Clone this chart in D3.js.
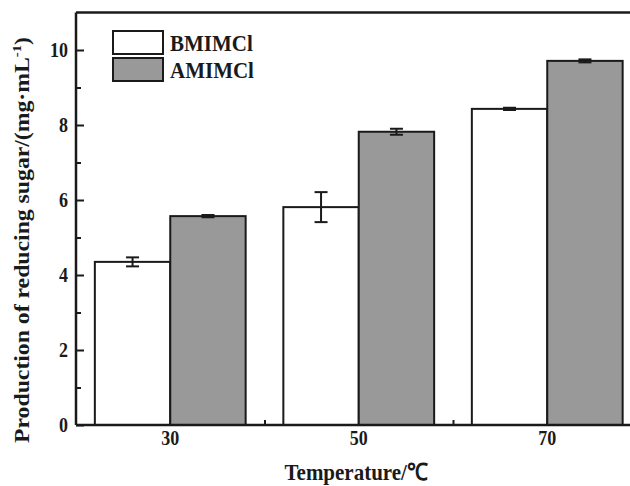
<!DOCTYPE html>
<html>
  <head>
    <title>Reducing sugar bar chart</title>
    <script src="https://d3js.org/d3.v7.min.js"></script>
    <style>
      body { margin: 0; background: #fff; }
      text { font-family: "Liberation Serif", "Times New Roman", serif; font-weight: bold; fill: #1a1a1a; }
    </style>
  </head>
  <body>
    <div id="chart"></div>
    <script>
      // data
      var temps = [30, 50, 70];
      var series = ["BMIMCl", "AMIMCl"];
      var bmimcl = [4.35, 5.81, 8.43];
      var bmimclErr = [0.12, 0.40, 0.03];
      var amimcl = [5.57, 7.82, 9.71];
      var amimclErr = [0.03, 0.08, 0.04];
      var yTicks = [0, 2, 4, 6, 8, 10];
      var yMinor = [1, 3, 5, 7, 9];
      var xMinor = [40, 60];

      var ink = "#1a1a1a";
      var fills = ["#ffffff", "#999999"];
      var stretch = 1.13; // the original figure is a bit taller than wide

      var svg = d3.select("#chart")
        .append("svg")
        .attr("width", 630)
        .attr("height", 486);

      var xScale = d3.scaleLinear().domain([20, 80]).range([76, 641.5]);
      var yScale = d3.scaleLinear().domain([0, 11]).range([425, 12.5]);
      var barW = 8; // in x units

      var rows = [];
      temps.forEach(function(t, i) {
        rows.push({ t: t, v: bmimcl[i], e: bmimclErr[i], s: 0 });
        rows.push({ t: t, v: amimcl[i], e: amimclErr[i], s: 1 });
      });

      // bars
      svg.selectAll("rect.bar")
        .data(rows)
        .enter()
        .append("rect")
        .attr("class", "bar")
        .attr("x", function(d) { return xScale(d.s === 0 ? d.t - barW : d.t); })
        .attr("y", function(d) { return yScale(d.v); })
        .attr("width", function(d) { return xScale(d.t + barW) - xScale(d.t); })
        .attr("height", function(d) { return yScale(0) - yScale(d.v); })
        .attr("fill", function(d) { return fills[d.s]; })
        .attr("stroke", ink)
        .attr("stroke-width", 2);

      // error bars
      var cap = 6.5;
      var eb = svg.selectAll("g.err")
        .data(rows)
        .enter()
        .append("g")
        .attr("class", "err")
        .attr("stroke", ink)
        .attr("stroke-width", 2);
      function cx(d) { return xScale(d.s === 0 ? d.t - barW / 2 : d.t + barW / 2); }
      eb.append("line")
        .attr("x1", cx).attr("x2", cx)
        .attr("y1", function(d) { return yScale(d.v + d.e); })
        .attr("y2", function(d) { return yScale(d.v - d.e); });
      eb.append("line")
        .attr("x1", function(d) { return cx(d) - cap; })
        .attr("x2", function(d) { return cx(d) + cap; })
        .attr("y1", function(d) { return yScale(d.v + d.e); })
        .attr("y2", function(d) { return yScale(d.v + d.e); });
      eb.append("line")
        .attr("x1", function(d) { return cx(d) - cap; })
        .attr("x2", function(d) { return cx(d) + cap; })
        .attr("y1", function(d) { return yScale(d.v - d.e); })
        .attr("y2", function(d) { return yScale(d.v - d.e); });

      // frame: left, bottom, top
      var frame = svg.append("g").attr("stroke", ink).attr("stroke-width", 2.5);
      frame.append("line").attr("x1", xScale(20)).attr("x2", xScale(20))
        .attr("y1", yScale(11)).attr("y2", yScale(0));
      frame.append("line").attr("x1", xScale(20)).attr("x2", xScale(80))
        .attr("y1", yScale(0)).attr("y2", yScale(0));
      frame.append("line").attr("x1", xScale(20)).attr("x2", xScale(80))
        .attr("y1", yScale(11)).attr("y2", yScale(11));

      // y axis ticks (inward)
      var yAxis = svg.append("g")
        .attr("transform", "translate(" + xScale(20) + ",0)")
        .call(d3.axisRight(yScale).tickValues(yTicks).tickSize(8).tickFormat(""));
      yAxis.select(".domain").remove();
      yAxis.selectAll("line").attr("stroke", ink).attr("stroke-width", 2);

      var yMin = svg.append("g")
        .attr("transform", "translate(" + xScale(20) + ",0)")
        .call(d3.axisRight(yScale).tickValues(yMinor).tickSize(5).tickFormat(""));
      yMin.select(".domain").remove();
      yMin.selectAll("line").attr("stroke", ink).attr("stroke-width", 2);

      svg.selectAll("text.ylab")
        .data(yTicks)
        .enter()
        .append("text")
        .attr("class", "ylab")
        .attr("transform", function(d) {
          return "translate(68," + (yScale(d) + 6.5) + ") scale(1," + stretch + ")";
        })
        .attr("text-anchor", "end")
        .style("font-size", "18px")
        .text(function(d) { return d; });

      // x axis ticks (inward)
      var xMin = svg.append("g")
        .attr("transform", "translate(0," + yScale(0) + ")")
        .call(d3.axisTop(xScale).tickValues(xMinor).tickSize(5).tickFormat(""));
      xMin.select(".domain").remove();
      xMin.selectAll("line").attr("stroke", ink).attr("stroke-width", 2);

      svg.selectAll("text.xlab")
        .data(temps)
        .enter()
        .append("text")
        .attr("class", "xlab")
        .attr("transform", function(d) {
          return "translate(" + xScale(d) + ",445) scale(1," + stretch + ")";
        })
        .attr("text-anchor", "middle")
        .style("font-size", "18px")
        .text(function(d) { return d; });

      // axis titles
      svg.append("text")
        .attr("transform", "translate(356,480) scale(1," + stretch + ")")
        .attr("text-anchor", "middle")
        .style("font-size", "21px")
        .text("Temperature/\u2103");

      var yt = svg.append("text")
        .attr("transform", "translate(29,240) rotate(-90) scale(" + stretch + ",1)")
        .attr("text-anchor", "middle")
        .style("font-size", "21px");
      yt.append("tspan").text("Production of reducing sugar/(mg\u00b7mL");
      yt.append("tspan").attr("dy", -8).style("font-size", "13px").text("-1");
      yt.append("tspan").attr("dy", 8).text(")");

      // legend
      var legend = svg.selectAll("g.legend")
        .data(series)
        .enter()
        .append("g")
        .attr("class", "legend")
        .attr("transform", function(d, i) { return "translate(113," + (31 + i * 27) + ")"; });
      legend.append("rect")
        .attr("width", 50)
        .attr("height", 23)
        .attr("fill", function(d, i) { return fills[i]; })
        .attr("stroke", ink)
        .attr("stroke-width", 2);
      legend.append("text")
        .attr("transform", "translate(57,19.5) scale(1," + stretch + ")")
        .style("font-size", "21px")
        .text(function(d) { return d; });
    </script>
  </body>
</html>
